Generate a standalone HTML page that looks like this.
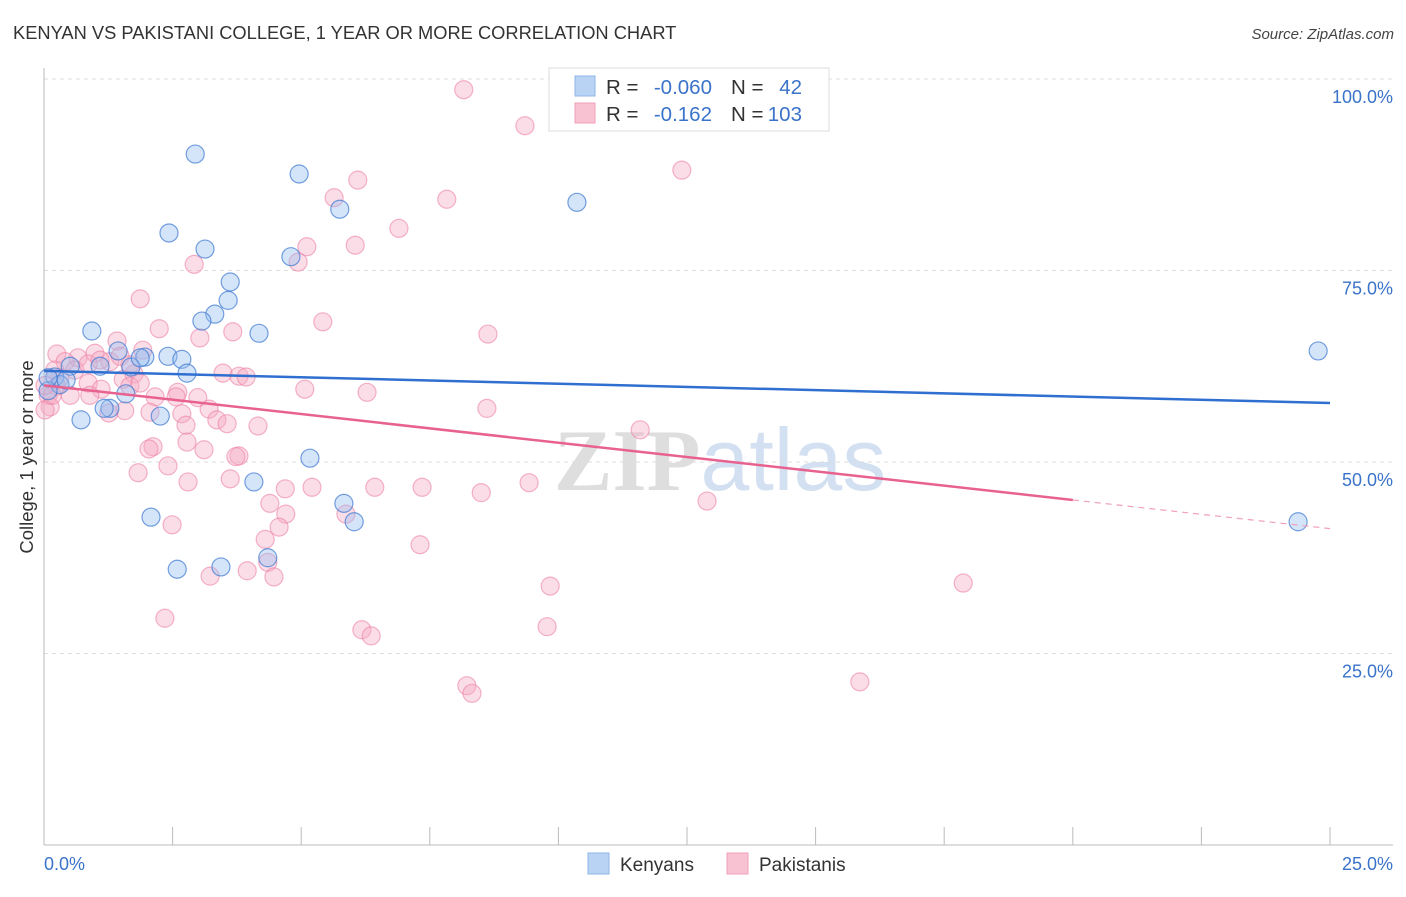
<!DOCTYPE html>
<html><head><meta charset="utf-8">
<style>
body{margin:0;background:#fff;font-family:"Liberation Sans",sans-serif;}
svg text{font-family:"Liberation Sans",sans-serif;}
</style></head>
<body>
<svg id="chart" width="1406" height="892" xmlns="http://www.w3.org/2000/svg">
<text x="13" y="39" font-size="18.3" fill="#333">KENYAN VS PAKISTANI COLLEGE, 1 YEAR OR MORE CORRELATION CHART</text>
<text x="1394" y="39" font-size="15" fill="#444" text-anchor="end" font-style="italic">Source: ZipAtlas.com</text>
<text x="720" y="490" font-size="88" text-anchor="middle" fill="#ddd" opacity="0.8"><tspan font-family="Liberation Serif" font-weight="bold" fill="#d6d6d6">ZIP</tspan><tspan fill="#c8d9ee">atlas</tspan></text>
<g id="grid"></g>
<g id="axes"></g>
<g id="points"></g>
<g id="lines"></g>
<text transform="translate(33,457) rotate(-90)" font-size="18.5" fill="#333" text-anchor="middle">College, 1 year or more</text>
<g>
<rect x="549" y="68" width="280" height="63" fill="#fff" stroke="#ddd"/>
<rect x="575" y="76" width="20" height="20" fill="#b9d3f5" stroke="#8fb5e8"/>
<rect x="575" y="103" width="20" height="20" fill="#f9c2d3" stroke="#f0a0b8"/>
<g font-size="20.5">
<text x="606" y="94" fill="#333">R =</text>
<text x="712" y="94" fill="#3a73c9" text-anchor="end">-0.060</text>
<text x="731" y="94" fill="#333">N =</text>
<text x="802" y="94" fill="#3a73c9" text-anchor="end">42</text>
<text x="606" y="121" fill="#333">R =</text>
<text x="712" y="121" fill="#3a73c9" text-anchor="end">-0.162</text>
<text x="731" y="121" fill="#333">N =</text>
<text x="802" y="121" fill="#3a73c9" text-anchor="end">103</text>
</g>
</g>
<g>
<rect x="588" y="853" width="21" height="21" fill="#b9d3f5" stroke="#8fb5e8"/>
<text x="620" y="871" font-size="19" fill="#333">Kenyans</text>
<rect x="727" y="853" width="21" height="21" fill="#f9c2d3" stroke="#f0a0b8"/>
<text x="759" y="871" font-size="19" fill="#333">Pakistanis</text>
</g>
</svg>
<script>
const xTicks=[0,2.5,5,7.5,10,12.5,15,17.5,20,22.5,25];
const yTicks=[25,50,75,100];
const yTickLabels=["25.0%","50.0%","75.0%","100.0%"];
const kenX=[2.94,4.96,5.75,10.36,2.43,3.13,4.80,3.62,3.58,3.32,3.07,4.18,0.93,1.44,1.96,2.41,2.68,2.78,1.69,1.09,0.51,0.21,0.31,0.08,1.59,1.28,0.72,2.26,5.17,4.08,5.83,6.03,2.08,2.59,3.44,4.35,24.77,24.38,0.08,0.43,1.87,1.17];
const kenY=[90.2,87.6,83.0,83.9,79.9,77.8,76.8,73.5,71.1,69.3,68.4,66.8,67.1,64.5,63.7,63.8,63.4,61.6,62.4,62.5,62.5,61.1,60.1,59.3,58.9,57.0,55.5,56.0,50.5,47.4,44.6,42.2,42.8,36.0,36.3,37.5,64.5,42.2,61.0,60.7,63.6,57.0];
const pakX=[8.16,9.35,12.40,6.10,5.64,7.83,6.90,5.11,6.05,4.94,2.92,1.87,5.42,8.63,2.24,3.67,3.03,1.42,1.92,0.99,0.25,0.66,0.41,1.28,1.75,1.54,0.86,0.25,0.08,0.12,3.48,3.79,3.93,5.07,6.28,2.99,2.60,2.57,2.16,1.11,1.67,3.21,2.06,1.57,1.26,2.68,2.76,3.36,3.56,4.16,8.61,11.59,2.12,2.04,2.78,3.11,3.79,3.73,2.41,1.83,2.80,3.62,4.69,5.21,6.43,7.35,8.50,9.43,12.89,4.39,4.70,5.87,4.57,4.30,7.31,4.35,4.47,3.23,3.95,2.49,2.35,9.84,17.87,9.78,6.18,6.36,8.22,8.32,15.86,0.02,0.16,0.31,0.60,0.86,1.09,1.48,1.67,1.87,0.51,0.89,0.21,0.02];
const pakY=[98.6,93.9,88.1,86.8,84.5,84.3,80.5,78.1,78.3,76.1,75.8,71.3,68.3,66.7,67.4,67.0,66.2,65.8,64.6,64.2,64.1,63.6,63.1,63.1,61.5,60.8,60.3,59.9,58.7,57.2,61.6,61.2,61.1,59.5,59.1,58.4,59.1,58.5,58.5,59.5,59.9,56.9,56.5,56.7,56.4,56.3,54.8,55.5,55.0,54.7,57.0,54.2,52.0,51.7,52.6,51.6,50.8,50.7,49.5,48.6,47.4,47.8,46.5,46.7,46.7,46.7,46.0,47.3,44.9,44.6,43.2,43.2,41.5,39.9,39.2,36.9,35.0,35.1,35.8,41.8,29.6,33.8,34.2,28.5,28.1,27.3,20.8,19.8,21.3,56.8,58.7,61.0,62.0,62.8,63.3,63.8,62.7,60.3,58.7,58.7,62.0,60.0];
const kenTrend=[61.9,57.7];
const pakTrend=[60.0,41.3];
const pakSolidEnd=20;

const X0=44,X1=1330,Y0=845,Y100=79;
const sx=v=>X0+(X1-X0)*v/25;
const sy=v=>Y0-(Y0-Y100)*v/100;
const NS="http://www.w3.org/2000/svg";
function mk(tag,attrs,parent){const e=document.createElementNS(NS,tag);for(const k in attrs)e.setAttribute(k,attrs[k]);parent.appendChild(e);return e;}
const grid=document.getElementById('grid'),axes=document.getElementById('axes'),pts=document.getElementById('points'),lines=document.getElementById('lines');
yTicks.forEach((t,i)=>{
  const l=mk('line',{x1:X0,x2:1393,y1:sy(t),y2:sy(t),stroke:'#ddd','stroke-dasharray':'4,4'},grid);
  
  
  const tx=mk('text',{x:1393,y:sy(t)+24,'font-size':18,fill:'#3a73c9','text-anchor':'end'},axes);
  tx.textContent=yTickLabels[i];
  
  
});
const ax=mk('line',{x1:X0,x2:X0,y1:68,y2:Y0,stroke:'#bbb'},axes);


const bx=mk('line',{x1:X0,x2:1393,y1:Y0,y2:Y0,stroke:'#bbb'},axes);


xTicks.forEach(t=>{
  const l=mk('line',{x1:sx(t),x2:sx(t),y1:Y0,y2:Y0-18,stroke:'#bbb'},axes);
  
  
});
const xl0=mk('text',{x:44,y:870,'font-size':18,fill:'#3a73c9'},axes);xl0.textContent='0.0%';


const xl1=mk('text',{x:1393,y:870,'font-size':18,fill:'#3a73c9','text-anchor':'end'},axes);xl1.textContent='25.0%';



pakX.forEach((v,i)=>{
  const c=mk('circle',{cx:sx(v),cy:sy(pakY[i]),r:9,fill:'rgba(246,170,195,0.4)',stroke:'rgba(236,130,165,0.6)','stroke-width':1.2},pts);
  
  
});
kenX.forEach((v,i)=>{
  const c=mk('circle',{cx:sx(v),cy:sy(kenY[i]),r:9,fill:'rgba(150,190,240,0.4)',stroke:'rgba(60,120,210,0.7)','stroke-width':1.2},pts);
  
  
});
const kl=mk('line',{x1:sx(0),y1:sy(kenTrend[0]),x2:sx(25),y2:sy(kenTrend[1]),stroke:'#2f6fd0','stroke-width':2.5},lines);


const py=x=>pakTrend[0]+(pakTrend[1]-pakTrend[0])*x/25;
const pl=mk('line',{x1:sx(0),y1:sy(pakTrend[0]),x2:sx(pakSolidEnd),y2:sy(py(pakSolidEnd)),stroke:'#e8628f','stroke-width':2.5},lines);


const pd=mk('line',{x1:sx(pakSolidEnd),y1:sy(py(pakSolidEnd)),x2:sx(25),y2:sy(pakTrend[1]),stroke:'#f0a0b8','stroke-width':1.2,'stroke-dasharray':'6,5'},lines);


</script>
</body></html>
